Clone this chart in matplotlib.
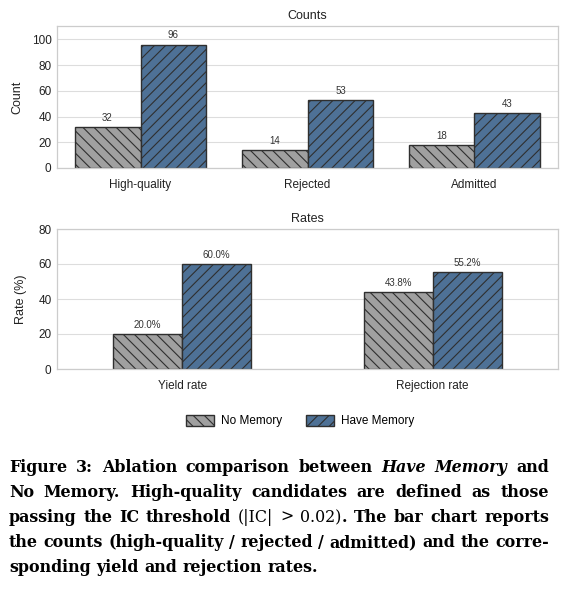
import matplotlib
matplotlib.use("Agg")
import matplotlib.pyplot as plt
import numpy as np

plt.rcParams['font.family'] = ['Liberation Sans', 'DejaVu Sans']
plt.rcParams['hatch.linewidth'] = 0.8
plt.rcParams['hatch.color'] = '#333333'

# ---- data ----
series = ["No Memory", "Have Memory"]
count_cats = ["High-quality", "Rejected", "Admitted"]
count_no = [32, 14, 18]
count_have = [96, 53, 43]
rate_cats = ["Yield rate", "Rejection rate"]
rate_no = [20.0, 43.8]
rate_have = [60.0, 55.2]

colors = ["#a0a0a0", "#4e7196"]
hatches = ["\\\\\\", "///"]
edge = "#2f2f2f"

W, H = 570, 595
fig = plt.figure(figsize=(W / 100, H / 100), dpi=100)

def ax_rect(l, t, r, b):
    return [l / W, 1 - b / H, (r - l) / W, (b - t) / H]

def style_ax(ax):
    ax.set_facecolor("white")
    for s in ax.spines.values():
        s.set_color("#cccccc")
        s.set_linewidth(0.9)
    ax.grid(axis="y", color="#dddddd", linewidth=0.8)
    ax.set_axisbelow(True)
    ax.tick_params(axis="y", length=0, labelsize=8.5, colors="#222222", pad=4)
    ax.tick_params(axis="x", length=0, labelsize=8.5, colors="#222222", pad=14.5)

# ---- counts ----
ax1 = fig.add_axes(ax_rect(57, 26, 558, 168))
style_ax(ax1)
x1 = np.arange(len(count_cats))
w1 = 0.395
for i, vals in enumerate([count_no, count_have]):
    xs = x1 + (i - 0.5) * w1
    bars = ax1.bar(xs, vals, w1, color=colors[i], edgecolor=edge, linewidth=1.0,
                   hatch=hatches[i], label=series[i])
    for b, v in zip(bars, vals):
        ax1.annotate(f"{v}", (b.get_x() + b.get_width() / 2, v), xytext=(0, 3),
                     textcoords="offset points", ha="center", va="bottom",
                     fontsize=7, color="#333333")
ax1.set_xlim(-0.5, 2.5)
ax1.set_ylim(0, 110.4)
ax1.set_yticks([0, 20, 40, 60, 80, 100])
ax1.set_xticks(x1)
ax1.set_xticklabels(count_cats, va="baseline")
ax1.set_ylabel("Count", fontsize=9, color="#222222", labelpad=6)
ax1.set_title("Counts", fontsize=9, color="#222222", pad=5)

# ---- rates ----
ax2 = fig.add_axes(ax_rect(57, 229, 558, 369))
style_ax(ax2)
x2 = np.arange(len(rate_cats))
w2 = 0.275
handles = []
for i, vals in enumerate([rate_no, rate_have]):
    xs = x2 + (i - 0.5) * w2
    bars = ax2.bar(xs, vals, w2, color=colors[i], edgecolor=edge, linewidth=1.0,
                   hatch=hatches[i], label=series[i])
    handles.append(bars)
    for b, v in zip(bars, vals):
        ax2.annotate(f"{v:.1f}%", (b.get_x() + b.get_width() / 2, v), xytext=(0, 3),
                     textcoords="offset points", ha="center", va="bottom",
                     fontsize=7, color="#333333")
ax2.set_xlim(-0.5, 1.5)
ax2.set_ylim(0, 80)
ax2.set_yticks([0, 20, 40, 60, 80])
ax2.set_xticks(x2)
ax2.set_xticklabels(rate_cats, va="baseline")
ax2.set_ylabel("Rate (%)", fontsize=9, color="#222222", labelpad=8)
ax2.set_title("Rates", fontsize=9, color="#222222", pad=5)

fig.legend(handles=handles, labels=series, loc="center",
           bbox_to_anchor=(300 / W, 1 - 421 / H), ncol=2, frameon=False,
           fontsize=8.5, handlelength=2.4, handleheight=1.1, columnspacing=2.0,
           handletextpad=0.6)

# ---- caption (justified) ----
B = dict(weight="bold")
BI = dict(weight="bold", style="italic")
R = dict(weight="normal")
caption = [
    [[("Figure", B)], [("3:", B)], [("Ablation", B)], [("comparison", B)], [("between", B)],
     [("Have", BI)], [("Memory", BI)], [("and", B)]],
    [[("No", B)], [("Memory.", B)], [("High-quality", B)], [("candidates", B)], [("are", B)],
     [("defined", B)], [("as", B)], [("those", B)]],
    [[("passing", B)], [("the", B)], [("IC", B)], [("threshold", B)], [("(|IC|", R)], [(">", R)],
     [("0.02)", R), (".", B)], [("The", B)], [("bar", B)], [("chart", B)], [("reports", B)]],
    [[("the", B)], [("counts", B)], [("(high-quality", B)], [("/", B)], [("rejected", B)], [("/", B)],
     [("admitted)", B)], [("and", B)], [("the", B)], [("corre-", B)]],
    [[("sponding", B)], [("yield", B)], [("and", B)], [("rejection", B)], [("rates.", B)]],
]
cap_family = "DejaVu Serif"
cap_left, cap_right = 9, 549
line_ys = [472, 497, 522, 547, 572]
fig.canvas.draw()
renderer = fig.canvas.get_renderer()

def make(txt, st, xpix, ypix, fs):
    return fig.text(xpix / W, 1 - ypix / H, txt, fontsize=fs, family=cap_family,
                    va="baseline", ha="left", color="black", **st)

def measure(word, fs):
    tot = 0
    for txt, st in word:
        t = make(txt, st, 0, 0, fs)
        tot += t.get_window_extent(renderer).width
        t.remove()
    return tot

def space_width(fs):
    a = measure([("a a", B)], fs)
    b = measure([("aa", B)], fs)
    return a - b

# choose font size so the widest line fits naturally
fs = 12.0
for _ in range(3):
    nat = max(sum(measure(w, fs) for w in words) + space_width(fs) * (len(words) - 1)
              for words in caption[:-1])
    fs = fs * (cap_right - cap_left) / nat

sw = space_width(fs)
for li, (words, yb) in enumerate(zip(caption, line_ys)):
    widths = [measure(w, fs) for w in words]
    if li < len(caption) - 1:
        gap = (cap_right - cap_left - sum(widths)) / (len(words) - 1)
    else:
        gap = sw
    x = cap_left
    for word, wd in zip(words, widths):
        xx = x
        for txt, st in word:
            t = make(txt, st, xx, yb, fs)
            xx += t.get_window_extent(renderer).width
        x += wd + gap

fig.savefig("out.png", dpi=100, facecolor="white")
